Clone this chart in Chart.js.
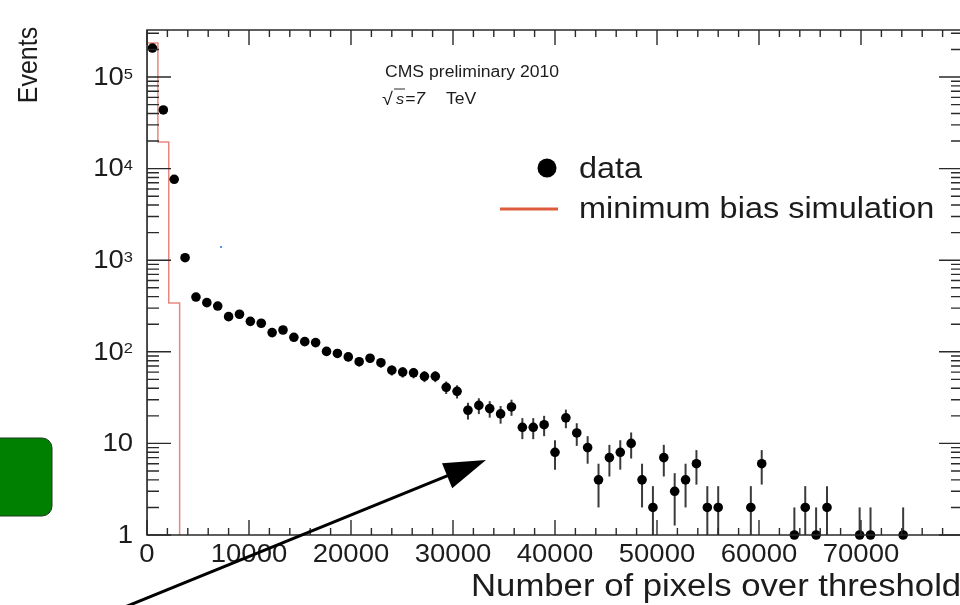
<!DOCTYPE html>
<html>
<head>
<meta charset="utf-8">
<title>Number of pixels over threshold</title>
<script src="https://cdn.jsdelivr.net/npm/chart.js@4.4.1/dist/chart.umd.min.js"></script>
<style>
  html, body { margin: 0; padding: 0; background: #fff; overflow: hidden; }
  #wrap { position: relative; width: 960px; height: 605px; overflow: hidden; }
  canvas { position: absolute; left: 0; top: 0; }
</style>
</head>
<body>
<div id="wrap"><canvas id="chart" width="975" height="605"></canvas></div>
<script>
// histogram: 75 bins between 0 and 80000 pixels
const binCount = 75
const xRange = [0, 80000]
const yRange = [1, 326000]

// events per bin (0 = empty bin)
const dataCounts = [
  207000, 43700, 7640, 1065, 396, 344, 316, 242, 257, 215,
  205, 162, 173, 144, 129, 126, 101, 96, 88, 78,
  85, 76, 63, 60, 59, 54, 54, 41, 37, 23,
  26, 24, 21, 25, 15, 15, 16, 8, 19, 13,
  9, 4, 7, 8, 10, 4, 2, 7, 3, 4,
  6, 2, 2, 0, 0, 2, 6, 0, 0, 1,
  2, 1, 2, 0, 0, 1, 1, 0, 0, 1,
  0, 0, 0, 0, 0
]
// minimum bias simulation, first bins (rest are empty)
const simCounts = [235000, 19500, 340, 0]

const xTickValues = [0, 10000, 20000, 30000, 40000, 50000, 60000, 70000]
const xTickLabels = ['0', '10000', '20000', '30000', '40000', '50000', '60000', '70000']
const yTickValues = [1, 10, 100, 1000, 10000, 100000]
const yTickLabels = [['1', ''], ['10', ''], ['10', '2'], ['10', '3'], ['10', '4'], ['10', '5']]

const binWidth = (xRange[1] - xRange[0]) / binCount
const dataPoints = dataCounts
  .map((n, i) => ({ x: xRange[0] + (i + 0.5) * binWidth, y: n }))
  .filter(p => p.y > 0)
// empty bins can't sit on a log axis, put them just under it (clipped away)
const floorValue = yRange[0] / 10
const simPoints = [{ x: xRange[0], y: floorValue }].concat(
  simCounts.map((n, i) => ({ x: xRange[0] + i * binWidth, y: n > 0 ? n : floorValue }))
)

const INK = '#1c1c1c'
const STRETCH = 1.1   // the original picture is a bit wider than tall
const FONT = '"Liberation Sans", Arial, sans-serif'

function text(ctx, str, x, y, font, align, baseline, stretch) {
  ctx.save()
  ctx.font = font
  ctx.textAlign = align || 'left'
  ctx.textBaseline = baseline || 'alphabetic'
  ctx.translate(x, y)
  ctx.scale(stretch || STRETCH, 1)
  ctx.fillText(str, 0, 0)
  ctx.restore()
}

function textWidth(ctx, str, font) {
  ctx.save()
  ctx.font = font
  const w = ctx.measureText(str).width * STRETCH
  ctx.restore()
  return w
}

const errorBars = {
  id: 'errorBars',
  beforeDatasetsDraw(chart) {
    const { ctx, chartArea: a, scales: { x, y } } = chart
    ctx.save()
    ctx.beginPath()
    ctx.rect(a.left, a.top, a.right - a.left, a.bottom - a.top)
    ctx.clip()
    ctx.strokeStyle = '#3a3a3a'
    ctx.lineWidth = 2
    dataPoints.forEach(p => {
      const err = Math.sqrt(p.y)
      const px = x.getPixelForValue(p.x)
      const hi = y.getPixelForValue(p.y + err)
      const lo = p.y - err > 0 ? y.getPixelForValue(p.y - err) : a.bottom + 5
      ctx.beginPath()
      ctx.moveTo(px, lo)
      ctx.lineTo(px, hi)
      ctx.stroke()
    })
    ctx.restore()
  }
}

const frameAndText = {
  id: 'frameAndText',
  afterDraw(chart) {
    const { ctx, chartArea: a, scales: { x, y } } = chart
    ctx.save()
    ctx.strokeStyle = '#2a2a2a'
    ctx.lineWidth = 1.6

    // frame
    ctx.beginPath()
    ctx.moveTo(a.left, a.top); ctx.lineTo(a.right, a.top)
    ctx.lineTo(a.right, a.bottom); ctx.lineTo(a.left, a.bottom)
    ctx.closePath()
    ctx.stroke()

    // x ticks, bottom and top
    ctx.lineWidth = 1.4
    for (let v = xRange[0]; v < xRange[1]; v += 2000) {
      const px = x.getPixelForValue(v)
      const len = v % 10000 === 0 ? 15 : 7
      ctx.beginPath()
      ctx.moveTo(px, a.bottom); ctx.lineTo(px, a.bottom - len)
      ctx.moveTo(px, a.top); ctx.lineTo(px, a.top + len)
      ctx.stroke()
    }
    // y log ticks, left and right
    for (let d = 0; d < 6; d++) {
      for (let k = 1; k < 10; k++) {
        const v = k * Math.pow(10, d)
        if (v > yRange[1]) break
        const py = y.getPixelForValue(v)
        const len = k === 1 ? 24 : 12
        ctx.beginPath()
        ctx.moveTo(a.left, py); ctx.lineTo(a.left + len, py)
        ctx.moveTo(a.right, py); ctx.lineTo(a.right - len, py)
        ctx.stroke()
      }
    }

    ctx.fillStyle = INK
    // x tick labels
    xTickValues.forEach((v, i) => {
      text(ctx, xTickLabels[i], x.getPixelForValue(v), 555, '25px ' + FONT, 'center', 'middle')
    })
    // y tick labels with exponents
    const big = '25px ' + FONT
    const small = '15px ' + FONT
    yTickValues.forEach((v, i) => {
      const py = y.getPixelForValue(v)
      const [base, exp] = yTickLabels[i]
      const right = 133
      if (exp) {
        const we = textWidth(ctx, exp, small)
        text(ctx, exp, right, py + 1.5, small, 'right', 'alphabetic')
        text(ctx, base, right - we, py + 1, big, 'right', 'middle')
      } else {
        text(ctx, base, right, py + 1, big, 'right', 'middle')
      }
    })

    // axis titles
    text(ctx, 'Number of pixels over threshold', 471, 596, '31px ' + FONT, 'left', 'alphabetic', 1.12)
    ctx.save()
    ctx.translate(29, 65)
    ctx.rotate(-Math.PI / 2)
    ctx.font = '25px ' + FONT
    ctx.textAlign = 'center'
    ctx.textBaseline = 'middle'
    ctx.scale(1, STRETCH)
    ctx.fillText('Events', 0, 0)
    ctx.restore()

    // header text
    text(ctx, 'CMS preliminary 2010', 385, 77, '16px ' + FONT)
    text(ctx, '\u221A', 382, 105, '18px ' + FONT)
    text(ctx, 's', 396, 104, 'italic 15px ' + FONT)
    ctx.lineWidth = 1
    ctx.beginPath(); ctx.moveTo(394, 89); ctx.lineTo(405, 89); ctx.stroke()
    text(ctx, '=7', 405, 104, 'italic 16px ' + FONT)
    text(ctx, 'TeV', 446, 104, '16px ' + FONT)

    // legend
    ctx.fillStyle = '#000'
    ctx.beginPath(); ctx.arc(547, 168, 9.5, 0, Math.PI * 2); ctx.fill()
    ctx.strokeStyle = 'rgb(222, 92, 62)'
    ctx.lineWidth = 3
    ctx.beginPath(); ctx.moveTo(500, 209); ctx.lineTo(558, 209); ctx.stroke()
    ctx.fillStyle = INK
    text(ctx, 'data', 579, 178, '29.5px ' + FONT)
    text(ctx, 'minimum bias simulation', 579, 218, '29.5px ' + FONT)

    // stray blue speck in the original
    ctx.fillStyle = 'rgb(90, 150, 230)'
    ctx.fillRect(220, 246, 2, 2)

    // green box at the left
    ctx.fillStyle = '#008000'
    ctx.strokeStyle = '#1f3a1f'
    ctx.lineWidth = 1
    ctx.beginPath()
    ctx.roundRect(-12, 438, 64, 78, 10)
    ctx.fill()
    ctx.stroke()

    // arrow
    const tip = [486, 460], tail = [120, 609]
    const dx = tip[0] - tail[0], dy = tip[1] - tail[1]
    const L = Math.hypot(dx, dy), ux = dx / L, uy = dy / L
    const bx = tip[0] - 42 * ux, by = tip[1] - 42 * uy
    ctx.strokeStyle = '#000'
    ctx.fillStyle = '#000'
    ctx.lineWidth = 3
    ctx.beginPath(); ctx.moveTo(tail[0], tail[1]); ctx.lineTo(bx + 2 * ux, by + 2 * uy); ctx.stroke()
    ctx.beginPath()
    ctx.moveTo(tip[0], tip[1])
    ctx.lineTo(bx - 13.5 * uy, by + 13.5 * ux)
    ctx.lineTo(bx + 13.5 * uy, by - 13.5 * ux)
    ctx.closePath()
    ctx.fill()
    ctx.restore()
  }
}

new Chart(document.getElementById('chart'), {
  type: 'scatter',
  data: {
    datasets: [
      {
        label: 'data',
        data: dataPoints,
        pointRadius: 4.8,
        pointBackgroundColor: '#000',
        pointBorderWidth: 0,
        showLine: false,
        clip: false
      },
      {
        label: 'minimum bias simulation',
        type: 'line',
        data: simPoints,
        stepped: 'before',
        borderColor: 'rgba(222, 96, 86, 0.75)',
        borderWidth: 1.5,
        pointRadius: 0,
        fill: false,
        clip: 0
      }
    ]
  },
  options: {
    responsive: false,
    animation: false,
    devicePixelRatio: 1,
    layout: { padding: { left: 147, right: 12, top: 30, bottom: 70 } },
    plugins: { legend: { display: false }, tooltip: { enabled: false } },
    scales: {
      x: { type: 'linear', min: xRange[0], max: xRange[1], display: false },
      y: { type: 'logarithmic', min: yRange[0], max: yRange[1], display: false }
    }
  },
  plugins: [errorBars, frameAndText]
})
</script>
</body>
</html>
